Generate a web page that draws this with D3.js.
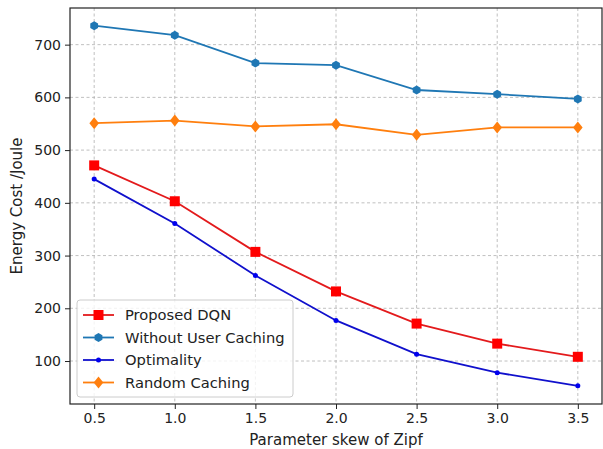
<!DOCTYPE html>
<html><head><meta charset="utf-8">
<script src="https://cdn.jsdelivr.net/npm/d3@7"></script>
<style>body{margin:0;background:#fff}svg{display:block}</style>
</head><body>
<svg id="c" width="603" height="449"></svg>
<script>
const xVals = [0.5, 1.0, 1.5, 2.0, 2.5, 3.0, 3.5];
const proposedDQN = [471, 403, 307, 232, 171, 133, 108];
const withoutUserCaching = [736, 718, 665, 661, 614, 606, 597];
const optimality = [445, 361, 262, 177, 113, 78, 53];
const randomCaching = [551, 556, 545, 549, 529, 543, 543];
const xTicks = [0.5, 1.0, 1.5, 2.0, 2.5, 3.0, 3.5];
const yTicks = [100, 200, 300, 400, 500, 600, 700];
const seriesNames = ["Proposed DQN", "Without User Caching", "Optimality", "Random Caching"];

const series = [
  {name: seriesNames[0], vals: proposedDQN, color: "#ff0000", line: "#e31a1c", marker: "square", size: 10},
  {name: seriesNames[1], vals: withoutUserCaching, color: "#1f77b4", line: "#1f77b4", marker: "hexagon", size: 9},
  {name: seriesNames[2], vals: optimality, color: "#0000ee", line: "#1010cc", marker: "point", size: 5},
  {name: seriesNames[3], vals: randomCaching, color: "#ff7f0e", line: "#ff7f0e", marker: "diamond", size: 12}
];

const svg = d3.select("#c");
const L = 70, R = 602, T = 8, B = 404;
const x = d3.scaleLinear().domain([0.35, 3.65]).range([L, R]);
const y = d3.scaleLinear().domain([18.5, 769.5]).range([B, T]);
const font = "DejaVu Sans, sans-serif";

// grid
const g = svg.append("g");
g.selectAll(".gx").data(xTicks).join("line")
  .attr("x1", d => x(d)).attr("x2", d => x(d)).attr("y1", T).attr("y2", B)
  .attr("stroke", "#b0b0b0").attr("stroke-width", 0.8).attr("stroke-dasharray", "3,2.5");
g.selectAll(".gy").data(yTicks).join("line")
  .attr("y1", d => y(d)).attr("y2", d => y(d)).attr("x1", L).attr("x2", R)
  .attr("stroke", "#b0b0b0").attr("stroke-width", 0.8).attr("stroke-dasharray", "3,2.5");

// axes
const xa = svg.append("g").attr("transform", `translate(0,${B})`)
  .call(d3.axisBottom(x).tickValues(xTicks).tickFormat(d3.format(".1f")).tickSize(5).tickPadding(4));
const ya = svg.append("g").attr("transform", `translate(${L},0)`)
  .call(d3.axisLeft(y).tickValues(yTicks).tickSize(5).tickPadding(4));
[xa, ya].forEach(a => {
  a.select(".domain").remove();
  a.selectAll("text").attr("font-family", font).attr("font-size", 14).attr("fill", "#222");
  a.selectAll("line").attr("stroke", "#222");
});

// frame
svg.append("rect").attr("x", L).attr("y", T).attr("width", R - L).attr("height", B - T)
  .attr("fill", "none").attr("stroke", "#222").attr("stroke-width", 1.2);

function markerPath(type, s) {
  if (type === "square") return d3.symbol(d3.symbolSquare, s * s)();
  if (type === "diamond") { const h = s / 2; return `M0,${-h}L${h*0.8},0L0,${h}L${-h*0.8},0Z`; }
  if (type === "hexagon") {
    const r = s / 2; let p = "";
    for (let i = 0; i < 6; i++) { const a = Math.PI / 3 * i + Math.PI / 6; p += (i ? "L" : "M") + (r * Math.cos(a)).toFixed(2) + "," + (r * Math.sin(a)).toFixed(2); }
    return p + "Z";
  }
  return d3.symbol(d3.symbolCircle, Math.PI * (s / 2) * (s / 2))();
}

const line = d3.line().x(d => x(d[0])).y(d => y(d[1]));
series.forEach(s => {
  const pts = xVals.map((v, i) => [v, s.vals[i]]);
  svg.append("path").datum(pts).attr("d", line).attr("fill", "none")
    .attr("stroke", s.line).attr("stroke-width", 1.8);
  svg.append("g").selectAll("path").data(pts).join("path")
    .attr("transform", d => `translate(${x(d[0])},${y(d[1])})`)
    .attr("d", markerPath(s.marker, s.size)).attr("fill", s.color);
});

// legend
const lg = svg.append("g");
lg.append("rect").attr("x", 77).attr("y", 300).attr("width", 216).attr("height", 97).attr("rx", 3)
  .attr("fill", "#fff").attr("fill-opacity", 0.8).attr("stroke", "#ccc").attr("stroke-width", 1);
series.forEach((s, i) => {
  const yy = 315 + i * 22.5;
  lg.append("line").attr("x1", 83).attr("x2", 114).attr("y1", yy).attr("y2", yy)
    .attr("stroke", s.line).attr("stroke-width", 1.8);
  lg.append("path").attr("transform", `translate(98.5,${yy})`).attr("d", markerPath(s.marker, s.size)).attr("fill", s.color);
  lg.append("text").attr("x", 125).attr("y", yy).attr("dy", "0.35em")
    .attr("font-family", font).attr("font-size", 14.7).attr("fill", "#222").text(s.name);
});

// labels
svg.append("text").attr("x", (L + R) / 2).attr("y", 445).attr("text-anchor", "middle")
  .attr("font-family", font).attr("font-size", 15).attr("fill", "#222").text("Parameter skew of Zipf");
svg.append("text").attr("transform", `translate(22,${(T + B) / 2}) rotate(-90)`).attr("text-anchor", "middle")
  .attr("font-family", font).attr("font-size", 15).attr("fill", "#222").text("Energy Cost /Joule");
</script>
</body></html>
